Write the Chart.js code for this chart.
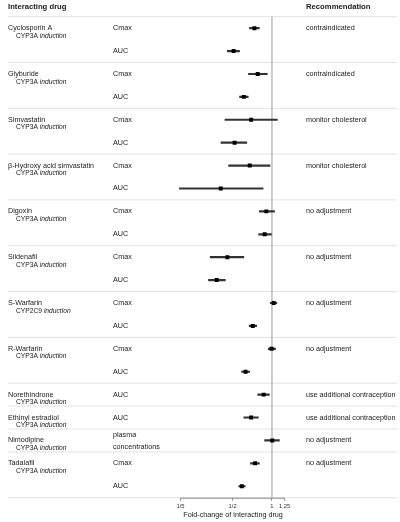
<!DOCTYPE html>
<html>
<head>
<meta charset="utf-8">
<script src="https://cdn.jsdelivr.net/npm/chart.js@4/dist/chart.umd.min.js"></script>
<style>
  html, body { margin: 0; padding: 0; background: #fff; }
  #wrap { width: 400px; height: 522px; position: relative; }
</style>
</head>
<body>
<div id="wrap"><canvas id="c"></canvas></div>
<script>
// ---------- data ----------
const drugNames = ["Cyclosporin A", "Glyburide", "Simvastatin", "\u03B2-Hydroxy acid simvastatin", "Digoxin", "Sildenafil", "S-Warfarin", "R-Warfarin", "Norethindrone", "Ethinyl estradiol", "Nimodipine", "Tadalafil"];
const drugMechanisms = ["CYP3A induction", "CYP3A induction", "CYP3A induction", "CYP3A induction", "CYP3A induction", "CYP3A induction", "CYP2C9 induction", "CYP3A induction", "CYP3A induction", "CYP3A induction", "CYP3A induction", "CYP3A induction"];
const recommendations = ["contraindicated", "contraindicated", "monitor cholesterol", "monitor cholesterol", "no adjustment", "no adjustment", "no adjustment", "no adjustment", "use additional contraception", "use additional contraception", "no adjustment", "no adjustment"];
const groupStartRow = [0, 2, 4, 6, 8, 10, 12, 14, 16, 17, 18, 19];
const paramLabels = ["Cmax", "AUC", "Cmax", "AUC", "Cmax", "AUC", "Cmax", "AUC", "Cmax", "AUC", "Cmax", "AUC", "Cmax", "AUC", "Cmax", "AUC", "AUC", "AUC", "plasma\nconcentrations", "Cmax", "AUC"];
const estimates = [0.734, 0.509, 0.778, 0.609, 0.693, 0.518, 0.676, 0.406, 0.905, 0.879, 0.456, 0.378, 1.03, 0.713, 0.993, 0.628, 0.864, 0.693, 1.005, 0.743, 0.588];
const ciLower  = [0.673, 0.456, 0.661, 0.565, 0.437, 0.408, 0.466, 0.196, 0.801, 0.791, 0.337, 0.327, 0.97, 0.670, 0.938, 0.585, 0.778, 0.609, 0.879, 0.685, 0.558];
const ciUpper  = [0.801, 0.565, 0.921, 0.658, 1.10, 0.642, 0.966, 0.855, 1.046, 0.99, 0.609, 0.440, 1.09, 0.764, 1.065, 0.676, 0.954, 0.787, 1.14, 0.801, 0.624];
const tickValues = [0.2, 0.5, 1, 1.25];
const tickLabels = ["1/5", "1/2", "1", "1.25"];
const headerLeft = "Interacting drug";
const headerRight = "Recommendation";
const axisTitle = "Fold-change of interacting drug";
// ---------------------------

const FONT = '"Liberation Sans", Arial, Helvetica, sans-serif';
const nRows = estimates.length;

const forestPlugin = {
  id: 'forest',
  beforeDatasetsDraw(chart) {
    const { ctx, scales: { x, y } } = chart;
    ctx.save();
    // separators
    ctx.strokeStyle = '#e2e2e2';
    ctx.lineWidth = 1;
    const seps = groupStartRow.map(r => r - 0.5).concat([nRows - 0.5]);
    seps.forEach(r => {
      const py = y.getPixelForValue(r);
      ctx.beginPath(); ctx.moveTo(8, py); ctx.lineTo(397, py); ctx.stroke();
    });
    // reference line at 1
    ctx.strokeStyle = '#9c9c9c';
    const px = x.getPixelForValue(1);
    ctx.beginPath();
    ctx.moveTo(px, y.getPixelForValue(-0.5));
    ctx.lineTo(px, y.getPixelForValue(nRows - 0.5));
    ctx.stroke();
    // axis line
    ctx.strokeStyle = '#8a8a8a';
    const ay = y.getPixelForValue(nRows - 0.5) + 0.5;
    ctx.beginPath();
    ctx.moveTo(x.getPixelForValue(tickValues[0]), ay);
    ctx.lineTo(x.getPixelForValue(tickValues[tickValues.length - 1]), ay);
    ctx.stroke();
    ctx.restore();
  },
  afterDraw(chart) {
    const { ctx, scales: { y } } = chart;
    ctx.save();
    ctx.fillStyle = '#1a1a1a';
    ctx.textBaseline = 'middle';
    ctx.textAlign = 'left';
    // headers
    const hy = y.getPixelForValue(-0.95);
    ctx.font = 'bold 7.7px ' + FONT;
    ctx.fillText(headerLeft, 8, hy);
    ctx.fillText(headerRight, 306, hy);
    // drug names, mechanisms, recommendations
    groupStartRow.forEach((r, i) => {
      const py = y.getPixelForValue(r);
      ctx.font = '7.2px ' + FONT;
      ctx.fillText(drugNames[i], 8, py);
      ctx.fillText(recommendations[i], 306, py);
      const mech = drugMechanisms[i];
      const sp = mech.indexOf(' ');
      const a = mech.slice(0, sp + 1), b = mech.slice(sp + 1);
      ctx.font = '6.7px ' + FONT;
      ctx.fillText(a, 16, py + 7.8);
      const w = ctx.measureText(a).width;
      ctx.font = 'italic 6.7px ' + FONT;
      ctx.fillText(b, 16 + w, py + 7.8);
    });
    // parameter labels
    ctx.font = '7.2px ' + FONT;
    paramLabels.forEach((lab, i) => {
      const py = y.getPixelForValue(i);
      const lines = lab.split('\n');
      if (lines.length === 1) {
        ctx.fillText(lab, 113, py);
      } else {
        ctx.fillText(lines[0], 113, py - 5);
        ctx.fillText(lines[1], 113, py + 6.5);
      }
    });
    ctx.restore();
  }
};

const rowIdx = estimates.map((_, i) => i);

new Chart(document.getElementById('c'), {
  type: 'bar',
  data: {
    datasets: [
      {
        type: 'bar',
        indexAxis: 'y',
        data: rowIdx.map(i => ({ y: i, x: [ciLower[i], ciUpper[i]] })),
        backgroundColor: '#333333',
        borderWidth: 0,
        barThickness: 1.5,
        order: 2
      },
      {
        type: 'scatter',
        data: rowIdx.map(i => ({ x: estimates[i], y: i })),
        pointStyle: 'rect',
        pointRadius: 2.8,
        pointHoverRadius: 2.8,
        backgroundColor: '#000',
        borderWidth: 0,
        order: 1
      }
    ]
  },
  options: {
    responsive: true,
    maintainAspectRatio: false,
    animation: false,
    events: [],
    layout: { padding: { top: 16.7, left: 69, right: 0, bottom: 0 } },
    plugins: { legend: { display: false }, tooltip: { enabled: false } },
    scales: {
      x: {
        type: 'logarithmic',
        position: 'bottom',
        min: 0.02808,
        max: 9.063,
        bounds: 'data',
        offset: false,
        afterBuildTicks: (s) => { s.ticks = tickValues.map(v => ({ value: v })); },
        afterFit: (s) => { s.height = 24.3; },
        border: { display: false },
        grid: { drawOnChartArea: false, drawTicks: true, tickLength: 3, color: '#8a8a8a', lineWidth: 1, offset: false },
        ticks: {
          autoSkip: false, maxRotation: 0, minRotation: 0, padding: 2,
          font: { size: 5.8, family: FONT }, color: '#333',
          callback: (v, i) => tickLabels[i]
        },
        title: {
          display: true, text: axisTitle, color: '#1a1a1a',
          font: { size: 7.2, family: FONT }, padding: { top: 0, bottom: 2.6 }
        }
      },
      y: {
        type: 'linear',
        display: false,
        reverse: true,
        offset: false,
        grid: { offset: false },
        min: -0.5,
        max: nRows - 0.5
      }
    }
  },
  plugins: [forestPlugin]
});
</script>
</body>
</html>
